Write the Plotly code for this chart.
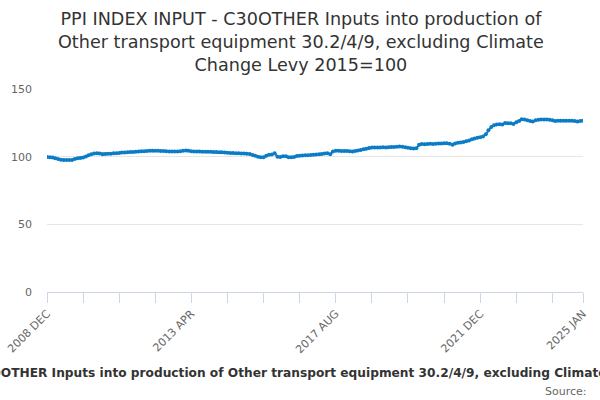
import plotly.graph_objects as go
import pandas as pd

start_month = "2008-12-01"
values = [
    99.8, 99.6, 99.3, 98.8, 98.3, 97.8, 97.6, 97.5, 97.6, 97.6, 98.3, 98.8,
    99.1, 99.3, 100.1, 101.1, 101.8, 102.4, 102.5, 102.4, 101.8, 101.9, 102.1, 102.2,
    102.5, 102.6, 102.8, 103.0, 103.1, 103.3, 103.4, 103.5, 103.7, 103.8, 104.0, 104.0,
    104.2, 104.3, 104.4, 104.3, 104.3, 104.2, 104.1, 104.0, 103.9, 103.9, 103.8, 103.8,
    104.0, 104.4, 104.6, 104.3, 104.0, 103.9, 103.8, 103.8, 103.7, 103.7, 103.7, 103.6,
    103.5, 103.4, 103.3, 103.2, 103.0, 102.9, 102.8, 102.7, 102.6, 102.5, 102.4, 102.3,
    102.2, 101.9, 101.3, 100.6, 100.0, 99.6, 99.5, 100.7, 101.4, 101.6, 102.5, 100.0,
    99.8, 100.4, 100.3, 99.6, 99.5, 99.8, 100.5, 100.6, 100.8, 101.0, 101.1, 101.3,
    101.4, 101.6, 101.8, 102.0, 102.4, 102.6, 101.8, 103.8, 104.3, 104.3, 104.2, 104.2,
    104.1, 104.0, 103.9, 104.2, 104.6, 105.0, 105.4, 105.9, 106.4, 106.8, 106.8, 106.7,
    106.8, 106.9, 106.8, 107.0, 107.1, 107.2, 107.4, 107.6, 107.4, 107.0, 106.6, 106.3,
    106.0, 106.2, 108.8, 109.3, 109.2, 109.4, 109.5, 109.4, 109.6, 109.7, 109.8, 109.9,
    110.0, 109.6, 108.8, 109.8, 110.2, 110.5, 110.9, 111.3, 112.0, 112.8, 113.5, 114.0,
    114.3, 114.9, 116.5, 119.5, 122.0, 123.3, 123.8, 123.9, 123.8, 124.9, 124.7, 124.6,
    124.2, 125.5, 126.4, 127.7, 127.5, 127.0, 126.3, 125.9, 126.9, 127.3, 127.4, 127.5,
    127.4, 127.3, 127.0, 126.4, 126.5, 126.5, 126.5, 126.6, 126.5, 126.5, 126.3, 126.0,
    126.3, 126.5,
]
months = pd.date_range(start_month, periods=len(values), freq="MS")

tick_dates = ["2008-12-01", "2013-04-01", "2017-08-01", "2021-12-01", "2025-01-01"]
tick_labels = ["2008 DEC", "2013 APR", "2017 AUG", "2021 DEC", "2025 JAN"]
y_ticks = [0, 50, 100, 150]

title_text = ("PPI INDEX INPUT - C30OTHER Inputs into production of<br>"
              "Other transport equipment 30.2/4/9, excluding Climate<br>"
              "Change Levy 2015=100")
axis_title = ("PPI INDEX INPUT - C30OTHER Inputs into production of Other transport "
              "equipment 30.2/4/9, excluding Climate Change Levy 2015=100")

color = "#0b7cc6"
font = "DejaVu Sans"

W, H = 600, 400
ML, MR, MT, MB = 47, 17, 89, 108
plot_w = W - ML - MR
plot_h = H - MT - MB


def px_x(x):
    return (x - ML) / plot_w


def px_y(y):
    return (H - MB - y) / plot_h


fig = go.Figure()
fig.add_trace(go.Scatter(
    x=months, y=values, mode="lines+markers",
    line=dict(color=color, width=2),
    marker=dict(color=color, size=4),
    showlegend=False,
))

fig.update_layout(
    width=W, height=H,
    margin=dict(l=ML, r=MR, t=MT, b=MB, autoexpand=False),
    paper_bgcolor="white", plot_bgcolor="white",
    font=dict(family=font, color="#666666"),
    xaxis=dict(
        type="date", automargin=False,
        range=[tick_dates[0], tick_dates[-1]],
        tickvals=tick_dates, ticktext=tick_labels,
        tickangle=-45, tickfont=dict(size=11, color="#666666"),
        ticks="outside", ticklen=10, tickcolor="#ccd6eb",
        showline=True, linecolor="#ccd6eb", linewidth=1,
        showgrid=False, zeroline=False,
        minor=dict(dtick="M13", tick0=tick_dates[0], ticks="outside",
                   ticklen=10, tickcolor="#ccd6eb", showgrid=False),
    ),
    yaxis=dict(
        range=[0, 150], tickvals=y_ticks, automargin=False,
        tickfont=dict(size=11, color="#666666"),
        showgrid=True, gridcolor="#e6e6e6", gridwidth=1,
        zeroline=False, showline=False, ticks="",
        ticklabelstandoff=14,
    ),
    annotations=[
        dict(text=title_text, x=px_x(301), y=px_y(42), xref="paper", yref="paper",
             showarrow=False, font=dict(family=font, size=17.6, color="#333333"),
             xanchor="center", yanchor="middle", align="center"),
        dict(text="<b>" + axis_title + "</b>", x=px_x(309), y=px_y(373),
             xref="paper", yref="paper",
             showarrow=False, font=dict(family=font, size=12.2, color="#333333"),
             xanchor="center", yanchor="middle"),
        dict(text="Source:", x=px_x(589), y=px_y(391), xref="paper", yref="paper",
             showarrow=False, font=dict(family=font, size=11, color="#666666"),
             xanchor="right", yanchor="middle"),
    ],
)

fig.write_html("out.html", config={"displayModeBar": False},
               post_script="document.body.style.margin='0';document.body.style.overflow='hidden';")
